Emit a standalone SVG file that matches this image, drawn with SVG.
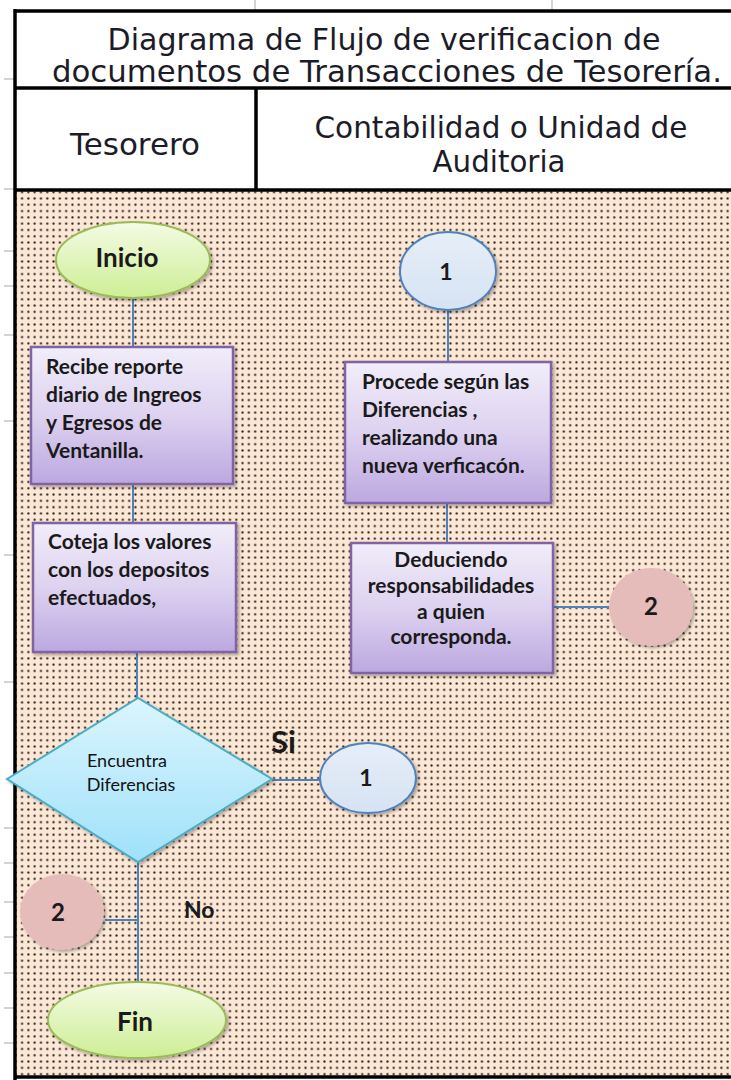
<svg xmlns="http://www.w3.org/2000/svg" width="731" height="1080" viewBox="0 0 731 1080">
<style>
.hdr{font-family:"DejaVu Sans","Verdana",sans-serif;font-size:30px;fill:#1c1c28}
.nt{font-family:Lato,"Open Sans",sans-serif;font-weight:700;font-size:21px;fill:#1a1a1a}
.dt{font-family:Lato,"Open Sans",sans-serif;font-weight:400;font-size:18px;fill:#111}
.big{font-family:Lato,"Open Sans",sans-serif;font-weight:700;fill:#1a1a1a}
.conn{stroke:#4f81bd;stroke-width:2;fill:none}
.box{fill:url(#gPurple);stroke:#8064a2;stroke-width:2.5}
.term{fill:url(#gGreen);stroke:#9bbb59;stroke-width:2}
.c1{fill:url(#gBlue);stroke:#4f81bd;stroke-width:2}
.c2{fill:#e6bcbb}
.tick{stroke:#c4c4c4;stroke-width:1.5}
.bord{stroke:#000;stroke-width:3.5;fill:none}
</style>
<defs>
<pattern id="dots" width="6.3" height="6.3" patternUnits="userSpaceOnUse">
<rect width="6.3" height="6.3" fill="#fce6d4"/>
<circle cx="3.15" cy="3.15" r="1.1" fill="#222"/>
</pattern>
<linearGradient id="gPurple" x1="0" y1="0" x2="0" y2="1">
<stop offset="0" stop-color="#f1edf9"/>
<stop offset="0.5" stop-color="#ddd2f0"/>
<stop offset="1" stop-color="#bca8e0"/>
</linearGradient>
<linearGradient id="gGreen" x1="0" y1="0" x2="0" y2="1">
<stop offset="0" stop-color="#f4fbe4"/>
<stop offset="1" stop-color="#cdee95"/>
</linearGradient>
<linearGradient id="gBlue" x1="0" y1="0" x2="0" y2="1">
<stop offset="0" stop-color="#e6eef8"/>
<stop offset="1" stop-color="#d6e3f3"/>
</linearGradient>
<linearGradient id="gCyan" x1="0" y1="0" x2="0" y2="1">
<stop offset="0" stop-color="#dbf5fd"/>
<stop offset="1" stop-color="#9fe1fa"/>
</linearGradient>
<filter id="sh" x="-10%" y="-10%" width="130%" height="130%">
<feDropShadow dx="2" dy="2" stdDeviation="1.5" flood-color="#000" flood-opacity="0.3"/>
</filter>
</defs>

<rect width="731" height="1080" fill="#ffffff"/>

<g id="grid">
<line class="tick" x1="255" y1="0" x2="255" y2="10"/>
<line class="tick" x1="552" y1="0" x2="552" y2="10"/>
<line class="tick" x1="4" y1="79" x2="14" y2="79"/>
<line class="tick" x1="4" y1="189" x2="14" y2="189"/>
<line class="tick" x1="4" y1="251" x2="14" y2="251"/>
<line class="tick" x1="4" y1="286" x2="14" y2="286"/>
<line class="tick" x1="4" y1="335" x2="14" y2="335"/>
<line class="tick" x1="4" y1="421" x2="14" y2="421"/>
<line class="tick" x1="4" y1="555" x2="14" y2="555"/>
<line class="tick" x1="4" y1="682" x2="14" y2="682"/>
<line class="tick" x1="4" y1="828" x2="14" y2="828"/>
<line class="tick" x1="4" y1="863" x2="14" y2="863"/>
<line class="tick" x1="4" y1="902" x2="14" y2="902"/>
<line class="tick" x1="4" y1="937" x2="14" y2="937"/>
<line class="tick" x1="4" y1="973" x2="14" y2="973"/>
<line class="tick" x1="4" y1="1008" x2="14" y2="1008"/>
<line class="tick" x1="4" y1="1043" x2="14" y2="1043"/>
</g>

<g id="table">
<rect x="15" y="190" width="720" height="887" fill="url(#dots)"/>
<line class="bord" x1="15" y1="11" x2="731" y2="11"/>
<line class="bord" x1="15" y1="88" x2="731" y2="88"/>
<line class="bord" x1="15" y1="190" x2="731" y2="190"/>
<line class="bord" x1="15" y1="1077" x2="731" y2="1077"/>
<line class="bord" x1="15" y1="9" x2="15" y2="1080"/>
<line class="bord" x1="256" y1="88" x2="256" y2="190"/>
<text class="hdr" x="384" y="50" text-anchor="middle" textLength="553" lengthAdjust="spacingAndGlyphs">Diagrama de Flujo de verificacion de</text>
<text class="hdr" x="387" y="82" text-anchor="middle" textLength="670" lengthAdjust="spacingAndGlyphs">documentos de Transacciones de Tesorería.</text>
<text class="hdr" x="135" y="155" text-anchor="middle" textLength="130" lengthAdjust="spacingAndGlyphs">Tesorero</text>
<text class="hdr" x="501" y="138" text-anchor="middle" textLength="373" lengthAdjust="spacingAndGlyphs">Contabilidad o Unidad de</text>
<text class="hdr" x="499" y="172" text-anchor="middle" textLength="133" lengthAdjust="spacingAndGlyphs">Auditoria</text>
</g>

<g id="connectors">
<line class="conn" x1="133" y1="298" x2="133" y2="347"/>
<line class="conn" x1="133" y1="484" x2="133" y2="523"/>
<line class="conn" x1="137" y1="652" x2="137" y2="698"/>
<line class="conn" x1="272" y1="780" x2="320" y2="780"/>
<line class="conn" x1="138" y1="862" x2="138" y2="982"/>
<line class="conn" x1="105" y1="920" x2="138" y2="920"/>
<line class="conn" x1="448" y1="310" x2="448" y2="362"/>
<line class="conn" x1="447" y1="503" x2="447" y2="543"/>
<line class="conn" x1="553" y1="607" x2="609" y2="607"/>
</g>

<g id="inicio">
<ellipse class="term" cx="133" cy="260" rx="77" ry="38" filter="url(#sh)"/>
<text class="big" x="127" y="267" text-anchor="middle" font-size="26">Inicio</text>
</g>

<g id="recibe">
<rect class="box" x="31" y="347" width="202" height="137" filter="url(#sh)"/>
<text class="nt" x="46" y="374">Recibe reporte</text>
<text class="nt" x="46" y="402">diario de Ingreos</text>
<text class="nt" x="46" y="430">y Egresos de</text>
<text class="nt" x="46" y="458">Ventanilla.</text>
</g>

<g id="coteja">
<rect class="box" x="33" y="523" width="203" height="129" filter="url(#sh)"/>
<text class="nt" x="48" y="549">Coteja los valores</text>
<text class="nt" x="48" y="577">con los depositos</text>
<text class="nt" x="48" y="605">efectuados,</text>
</g>

<g id="decision">
<polygon points="7,779 138,698 272,779 138,862" fill="url(#gCyan)" stroke="#4bacc6" stroke-width="2" filter="url(#sh)"/>
<text class="dt" x="127" y="767" text-anchor="middle">Encuentra</text>
<text class="dt" x="131" y="791" text-anchor="middle">Diferencias</text>
</g>

<g id="label-si">
<text class="big" x="271" y="753" font-size="31">Si</text>
</g>

<g id="label-no">
<text class="big" x="184" y="918" font-size="23">No</text>
</g>

<g id="conector1-abajo">
<ellipse class="c1" cx="368" cy="778" rx="48" ry="35" filter="url(#sh)"/>
<text class="big" x="366" y="786" text-anchor="middle" font-size="23">1</text>
</g>

<g id="conector2-izq">
<ellipse class="c2" cx="62" cy="912" rx="42" ry="38" filter="url(#sh)"/>
<text class="big" x="58" y="921" text-anchor="middle" font-size="24">2</text>
</g>

<g id="fin">
<ellipse class="term" cx="137" cy="1020" rx="89" ry="38" filter="url(#sh)"/>
<text class="big" x="135" y="1031" text-anchor="middle" font-size="26">Fin</text>
</g>

<g id="conector1-arriba">
<ellipse class="c1" cx="448" cy="271" rx="48" ry="39" filter="url(#sh)"/>
<text class="big" x="446" y="280" text-anchor="middle" font-size="23">1</text>
</g>

<g id="procede">
<rect class="box" x="345" y="362" width="206" height="141" filter="url(#sh)"/>
<text class="nt" x="362" y="389">Procede según las</text>
<text class="nt" x="362" y="417">Diferencias ,</text>
<text class="nt" x="362" y="445">realizando una</text>
<text class="nt" x="362" y="473">nueva verficacón.</text>
</g>

<g id="deduciendo">
<rect class="box" x="351" y="543" width="202" height="130" filter="url(#sh)"/>
<text class="nt" x="451" y="567" text-anchor="middle">Deduciendo</text>
<text class="nt" x="451" y="593" text-anchor="middle">responsabilidades</text>
<text class="nt" x="451" y="619" text-anchor="middle">a quien</text>
<text class="nt" x="451" y="644" text-anchor="middle">corresponda.</text>
</g>

<g id="conector2-der">
<ellipse class="c2" cx="651" cy="607" rx="42" ry="39" filter="url(#sh)"/>
<text class="big" x="651" y="615" text-anchor="middle" font-size="24">2</text>
</g>
</svg>
